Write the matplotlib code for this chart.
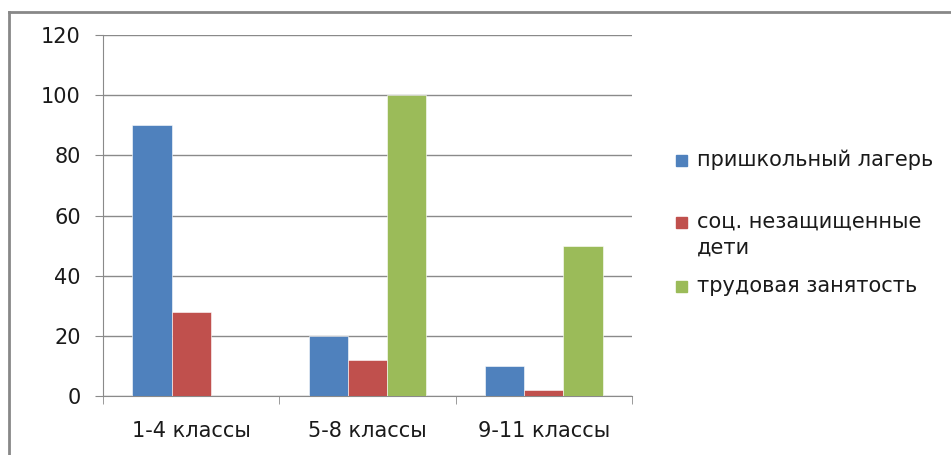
import numpy as np
import matplotlib.pyplot as plt
from matplotlib.lines import Line2D
from matplotlib.patches import Rectangle

plt.rcParams['font.family'] = ['DejaVu Sans']

categories = ['1-4 классы', '5-8 классы', '9-11 классы']
series_names = ['пришкольный лагерь', 'соц. незащищенные\nдети', 'трудовая занятость']
camp = [90, 20, 10]
social = [28, 12, 2]
work = [0, 100, 50]
colors = ['#4f81bd', '#c0504d', '#9bbb59']

fig = plt.figure(figsize=(9.51, 4.55), dpi=100)
ax = fig.add_axes([103 / 951, 1 - 396 / 455, 529 / 951, 361 / 455])

x = np.arange(len(categories))
w = 0.222
for i, (vals, c) in enumerate(zip([camp, social, work], colors)):
    ax.bar(x + (i - 1) * w, vals, width=w, color=c, edgecolor='white', linewidth=0.4, zorder=3)

ax.set_xlim(-0.5, 2.5)
ax.set_ylim(0, 120)
ax.set_yticks(range(0, 121, 20))
ax.yaxis.grid(True, color='#8a8a8a', linewidth=1, zorder=0)
for s in ['top', 'right']:
    ax.spines[s].set_visible(False)
for s in ['left', 'bottom']:
    ax.spines[s].set_color('#8a8a8a')
ax.tick_params(axis='y', length=6, color='#8a8a8a', labelsize=15, pad=10, labelcolor='#1a1a1a')
ax.set_xticks(x)
ax.set_xticklabels(categories, fontsize=15, color='#1a1a1a')
ax.tick_params(axis='x', length=0, pad=18)
ax.set_xticks([-0.5, 0.5, 1.5, 2.5], minor=True)
ax.tick_params(axis='x', which='minor', length=6, color='#8a8a8a')

# legend, placed by hand like Excel does (marker aligned to first line)
leg_y = [160, 222, 286]
for name, c, yy in zip(series_names, colors, leg_y):
    fig.patches.append(Rectangle((676 / 951, 1 - (yy + 6) / 455), 11 / 951, 11 / 455,
                                 transform=fig.transFigure, color=c))
    fig.text(697 / 951, 1 - (yy - 10) / 455, name, fontsize=15, va='top', ha='left',
             linespacing=1.35, color='#1a1a1a')

fig.add_artist(Line2D([9 / 951, 1], [1 - 12 / 455] * 2, color='#888888', linewidth=2))
fig.add_artist(Line2D([9 / 951] * 2, [0, 1 - 12 / 455], color='#888888', linewidth=2))

fig.savefig('out.png', dpi=100)
